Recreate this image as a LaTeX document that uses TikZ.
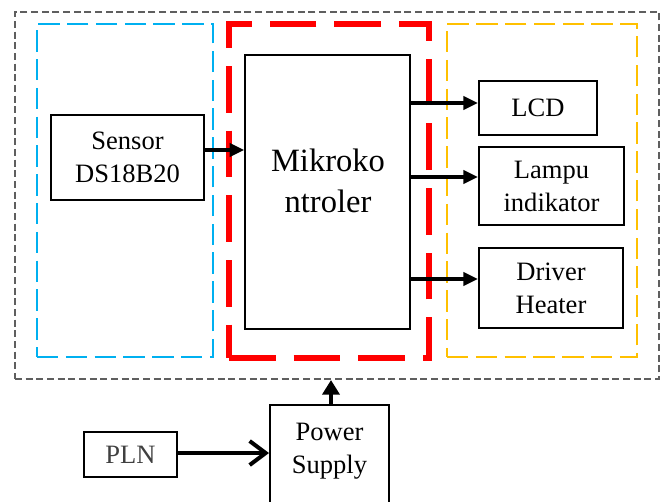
\documentclass[tikz,border=0pt]{standalone}
\usepackage{fontspec}
\setmainfont{Liberation Serif}
\usetikzlibrary{arrows.meta}
\definecolor{grayline}{RGB}{95,95,95}
\definecolor{blueline}{RGB}{0,176,240}
\definecolor{redline}{RGB}{255,0,0}
\definecolor{yellowline}{RGB}{255,192,0}
\definecolor{plngray}{RGB}{64,64,64}
\tikzset{
  txtfont/.style={font=\fontsize{19.9pt}{24.75pt}\selectfont},
  box/.style={draw=black, line width=1.5pt, rectangle, inner sep=0pt, align=center, txtfont},
  grp/.style={rectangle, inner sep=0pt},
  outergrp/.style={grp, draw=grayline, line width=1.5pt, dash pattern=on 5.25pt off 2.75pt},
  bluegrp/.style={grp, draw=blueline, line width=2pt, dash pattern=on 16pt off 5.6pt},
  redgrp/.style={grp, draw=redline, line width=4.5pt, dash pattern=on 35pt off 13.5pt},
  yellowgrp/.style={grp, draw=yellowline, line width=1.75pt, dash pattern=on 16pt off 5.6pt},
  arr/.style={line width=2.5pt, -{Triangle[length=11pt,width=10pt]}},
  uparr/.style={line width=3pt, -{Triangle[length=11pt,width=12.75pt]}},
  barbarr/.style={line width=3pt, -{Straight Barb[length=12pt,width=18pt]}, line cap=round}
}
\begin{document}
\begin{tikzpicture}[x=0.75pt,y=-0.75pt]
\useasboundingbox (0,0) rectangle (665,501);
\clip (0,0) rectangle (665,501);
% group frames
\node[outergrp, minimum width=483pt, minimum height=275.25pt] (outer) at (337,195.5) {};
\node[bluegrp, minimum width=132pt, minimum height=249.75pt] (blue) at (125,190.5) {};
\node[yellowgrp, minimum width=142.5pt, minimum height=249.75pt] (yellow) at (542,190.5) {};
\node[redgrp, minimum width=150pt, minimum height=250.5pt] (red) at (329,191) {};
% blocks
\node[box, minimum width=114.75pt, minimum height=63.75pt] (sensor) at (127.5,157.5) {Sensor\\DS18B20};
\node[box, line width=1.1pt, minimum width=123.75pt, minimum height=205.5pt] (mikro) at (327.5,192) {};
\node[align=center, font=\fontsize{24.4pt}{30.75pt}\selectfont, inner sep=0pt] (mtext) at (328,180.4) {Mikroko\\ntroler};
\node[box, minimum width=88.5pt, minimum height=40.5pt] (lcd) at (538,108) {LCD};
\node[box, minimum width=108.75pt, minimum height=58.5pt] (lampu) at (551.5,186) {Lampu\\indikator};
\node[box, minimum width=108pt, minimum height=60pt] (driver) at (551,288) {Driver\\Heater};
\node[box, minimum width=89.25pt, minimum height=94.5pt, anchor=north] (ps) at (329.5,404) {};
\node[align=center, txtfont, inner sep=0pt] (pstext) at (329.5,451) {Power\\Supply};
\node[box, minimum width=69.75pt, minimum height=33.75pt, text=plngray] (pln) at (130.5,454.5) {PLN};
% connector levels
\coordinate (ys) at (0,150);
\coordinate (yl) at (0,103);
\coordinate (yi) at (0,177);
\coordinate (yd) at (0,279);
\coordinate (yp) at (0,453);
\coordinate (xp) at (331,0);
% connectors
\draw[arr] (sensor.east |- ys) -- (mikro.west |- ys);
\draw[arr] (mikro.east |- yl) -- (lcd.west |- yl);
\draw[arr] (mikro.east |- yi) -- (lampu.west |- yi);
\draw[arr] (mikro.east |- yd) -- (driver.west |- yd);
\draw[uparr] (xp |- ps.north) -- (xp |- outer.south);
\draw[barbarr] (pln.east |- yp) -- (ps.west |- yp);
\end{tikzpicture}
\end{document}
